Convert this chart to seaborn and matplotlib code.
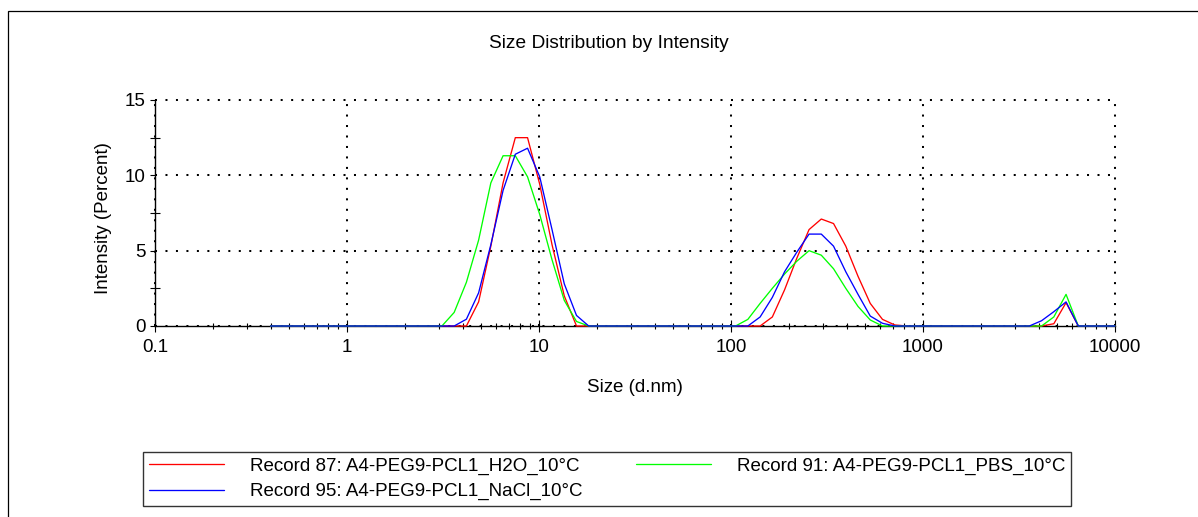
import matplotlib
matplotlib.use('Agg')
import matplotlib.pyplot as plt
import seaborn as sns
import pandas as pd
from matplotlib.ticker import FixedLocator, FixedFormatter, NullFormatter, LogLocator
from matplotlib.patches import Rectangle

# Size classes (d.nm)
sizes = [0.400, 0.463, 0.536, 0.621, 0.720, 0.833, 0.965, 1.117, 1.294, 1.499,
         1.736, 2.010, 2.327, 2.695, 3.121, 3.615, 4.186, 4.847, 5.613, 6.500,
         7.527, 8.717, 10.09, 11.69, 13.54, 15.68, 18.15, 21.02, 24.36, 28.21,
         32.67, 37.84, 43.82, 50.75, 58.77, 68.06, 78.82, 91.28, 105.7, 122.4,
         141.8, 164.2, 190.1, 220.2, 255.0, 295.3, 342.0, 396.1, 458.7, 531.2,
         615.1, 712.4, 825.0, 955.4, 1106, 1281, 1484, 1718, 1990, 2305,
         2669, 3091, 3580, 4145, 4801, 5560, 6439, 7456, 8635, 10000]

# Intensity (%) per record
h2o = [0, 0, 0, 0, 0, 0, 0, 0, 0, 0,
       0, 0, 0, 0, 0, 0, 0, 1.6, 5.3, 9.5,
       12.5, 12.5, 9.4, 5.4, 2.0, 0, 0, 0, 0, 0,
       0, 0, 0, 0, 0, 0, 0, 0, 0, 0,
       0, 0.6, 2.4, 4.5, 6.4, 7.1, 6.8, 5.3, 3.3, 1.5,
       0.44, 0.07, 0, 0, 0, 0, 0, 0, 0, 0,
       0, 0, 0, 0, 0.15, 1.55, 0, 0, 0, 0]

pbs = [0, 0, 0, 0, 0, 0, 0, 0, 0, 0,
       0, 0, 0, 0, 0, 0.9, 2.9, 5.7, 9.5, 11.3,
       11.3, 9.9, 7.4, 4.4, 1.7, 0.3, 0, 0, 0, 0,
       0, 0, 0, 0, 0, 0, 0, 0, 0, 0.44,
       1.5, 2.5, 3.45, 4.3, 5.0, 4.7, 3.8, 2.5, 1.3, 0.4,
       0, 0, 0, 0, 0, 0, 0, 0, 0, 0,
       0, 0, 0, 0, 0.6, 2.1, 0, 0, 0, 0]

nacl = [0, 0, 0, 0, 0, 0, 0, 0, 0, 0,
        0, 0, 0, 0, 0, 0, 0.45, 2.2, 5.4, 9.0,
        11.4, 11.8, 9.9, 6.4, 2.8, 0.7, 0, 0, 0, 0,
        0, 0, 0, 0, 0, 0, 0, 0, 0, 0,
        0.6, 1.9, 3.6, 4.9, 6.1, 6.1, 5.3, 3.6, 2.1, 0.66,
        0.18, 0, 0, 0, 0, 0, 0, 0, 0, 0,
        0, 0, 0, 0.35, 0.95, 1.6, 0, 0, 0, 0]

record_labels = ["Record 87: A4-PEG9-PCL1_H2O_10°C",
                 "Record 91: A4-PEG9-PCL1_PBS_10°C",
                 "Record 95: A4-PEG9-PCL1_NaCl_10°C"]
record_values = [h2o, pbs, nacl]
record_colors = ["#ff0000", "#00ff00", "#0000ff"]

x_ticks = [0.1, 1, 10, 100, 1000, 10000]
x_tick_labels = ["0.1", "1", "10", "100", "1000", "10000"]
y_ticks = [0, 5, 10, 15]
y_minor = [2.5, 7.5, 12.5]

sns.set_theme(style="white")
plt.rcParams['font.family'] = ['Liberation Sans', 'DejaVu Sans']

W, H = 1198, 517
fig = plt.figure(figsize=(W / 100, H / 100), dpi=100)
ax = fig.add_axes([155 / W, 1 - 326 / H, 960 / W, 226 / H])

handles = {}
for lab, vals, col in zip(record_labels, record_values, record_colors):
    df = pd.DataFrame({"size": sizes, "intensity": vals})
    sns.lineplot(data=df, x="size", y="intensity", ax=ax, color=col,
                 lw=0.95, estimator=None, sort=False, legend=False, zorder=3)
    ln = ax.lines[-1]
    ln.set_label(lab)
    ln.set_clip_on(False)
    handles[lab] = ln

ax.set_xscale("log")
ax.set_xlim(0.1, 10000)
ax.set_ylim(0, 15)

for s in ["top", "right"]:
    ax.spines[s].set_visible(False)
for s in ["left", "bottom"]:
    ax.spines[s].set_color("black")
    ax.spines[s].set_linewidth(1.0)

ax.xaxis.set_major_locator(FixedLocator(x_ticks))
ax.xaxis.set_major_formatter(FixedFormatter(x_tick_labels))
ax.xaxis.set_minor_locator(LogLocator(base=10, subs=range(2, 10)))
ax.xaxis.set_minor_formatter(NullFormatter())
ax.yaxis.set_major_locator(FixedLocator(y_ticks))
ax.yaxis.set_minor_locator(FixedLocator(y_minor))

ax.tick_params(which="both", bottom=True, left=True, colors="black",
               labelsize=13.5, width=0.8)
ax.tick_params(axis="x", which="major", direction="inout", length=8, pad=5)
ax.tick_params(axis="x", which="minor", direction="inout", length=4.5)
ax.tick_params(axis="y", which="major", direction="out", length=3.5, pad=3)
ax.tick_params(axis="y", which="minor", direction="inout", length=7)

ax.grid(True, which="major", color="black", linestyle=(0, (1, 4.2)), lw=1.45)
for gl in ax.get_xgridlines() + ax.get_ygridlines():
    gl.set_clip_on(False)

ax.set_xlabel("Size (d.nm)", fontsize=13.5, color="black")
ax.set_ylabel("Intensity (Percent)", fontsize=13.5, color="black")
ax.xaxis.set_label_coords(0.5, (326 - 388) / 226)
ax.xaxis.label.set_va("center")
ax.yaxis.set_label_coords((103 - 155) / 960, (326 - 218.5) / 226)
ax.yaxis.label.set_va("center")
ax.yaxis.label.set_ha("center")

fig.text(609 / W, 1 - 44 / H, "Size Distribution by Intensity",
         ha="center", va="center", fontsize=13.8, color="black")

order = [record_labels[0], record_labels[2], record_labels[1]]
leg = fig.legend([handles[k] for k in order], order, ncol=2, loc="upper left",
                 bbox_to_anchor=(143 / W, 1 - 451.7 / H, 928 / W, 0),
                 mode="expand", borderaxespad=0, frameon=True, fancybox=False,
                 edgecolor="black", fontsize=13.5, handlelength=4.0,
                 handletextpad=1.4, borderpad=0.3, labelspacing=0.45)
leg.get_frame().set_linewidth(1.0)
for t in leg.get_texts():
    t.set_color("black")

fig.add_artist(Rectangle((8 / W, -0.1), 1.2, (1 - 11.3 / H) + 0.1,
                         transform=fig.transFigure, fill=False,
                         ec="black", lw=0.9))

fig.savefig("out.png", dpi=100, facecolor="white")
